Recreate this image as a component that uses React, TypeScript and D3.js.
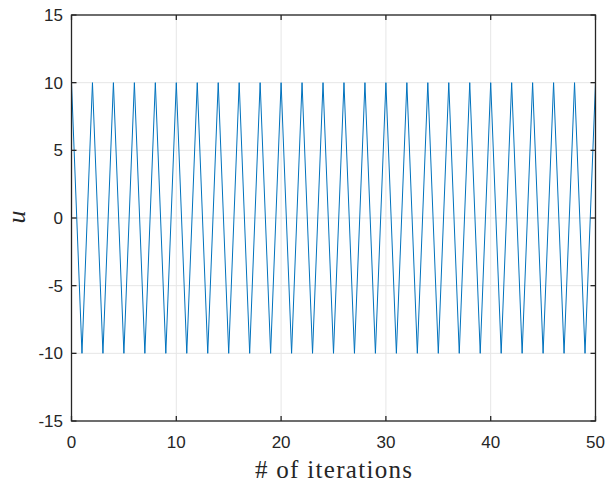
import React from "react";
import * as d3 from "d3";

const iterations: number[] = Array.from({ length: 51 }, (_, i) => i);
const uValues: number[] = [
  10, -10, 10, -10, 10, -10, 10, -10, 10, -10,
  10, -10, 10, -10, 10, -10, 10, -10, 10, -10,
  10, -10, 10, -10, 10, -10, 10, -10, 10, -10,
  10, -10, 10, -10, 10, -10, 10, -10, 10, -10,
  10, -10, 10, -10, 10, -10, 10, -10, 10, -10,
  10,
];
const xTicks: number[] = [0, 10, 20, 30, 40, 50];
const yTicks: number[] = [-15, -10, -5, 0, 5, 10, 15];
const xLabel = "# of iterations";
const yLabel = "u";

const W = 615;
const H = 484;
const L = 71.5;
const R = 595.5;
const T = 15;
const B = 421;

export default function App() {
  const x = d3.scaleLinear().domain([0, 50]).range([L, R]);
  const y = d3.scaleLinear().domain([-15, 15]).range([B, T]);
  const line = d3
    .line<number>()
    .x((_, i) => x(iterations[i]))
    .y((d) => y(d));
  const tick = 5;
  const sans = { fontFamily: "Liberation Sans, Arimo, Arial, Helvetica, sans-serif" };
  const serif = { fontFamily: "Liberation Serif, Times New Roman, serif" };
  return (
    <svg
      width={W}
      height={H}
      style={{ position: "absolute", left: 0, top: 0, background: "#fff" }}
    >
      <rect x={0} y={0} width={W} height={H} fill="#fff" />
      {xTicks.map((t) => (
        <line key={"gx" + t} x1={x(t)} x2={x(t)} y1={T} y2={B} stroke="#e6e6e6" strokeWidth={1} />
      ))}
      {yTicks.map((t) => (
        <line key={"gy" + t} x1={L} x2={R} y1={y(t)} y2={y(t)} stroke="#e6e6e6" strokeWidth={1} />
      ))}
      <path d={line(uValues) || ""} fill="none" stroke="#0072BD" strokeWidth={1} strokeLinejoin="miter" />
      <rect x={L} y={T} width={R - L} height={B - T} fill="none" stroke="#262626" strokeWidth={1.3} />
      {xTicks.map((t) => (
        <g key={"tx" + t}>
          <line x1={x(t)} x2={x(t)} y1={B} y2={B - tick} stroke="#262626" strokeWidth={1.3} />
          <line x1={x(t)} x2={x(t)} y1={T} y2={T + tick} stroke="#262626" strokeWidth={1.3} />
          <text x={x(t)} y={447.5} textAnchor="middle" style={sans} fontSize={17} fill="#262626">
            {t}
          </text>
        </g>
      ))}
      {yTicks.map((t) => (
        <g key={"ty" + t}>
          <line x1={L} x2={L + tick} y1={y(t)} y2={y(t)} stroke="#262626" strokeWidth={1.3} />
          <line x1={R} x2={R - tick} y1={y(t)} y2={y(t)} stroke="#262626" strokeWidth={1.3} />
          <text x={63} y={y(t)} dy="0.36em" textAnchor="end" style={sans} fontSize={17} fill="#262626">
            {t}
          </text>
        </g>
      ))}
      <text
        x={(L + R) / 2}
        y={478}
        textAnchor="middle"
        style={serif}
        fontSize={25}
        textLength={157}
        lengthAdjust="spacing"
        fill="#262626"
      >
        {xLabel}
      </text>
      <text
        transform={`translate(25, 217) rotate(-90)`}
        textAnchor="middle"
        style={serif}
        fontStyle="italic"
        fontSize={26}
        fill="#262626"
      >
        {yLabel}
      </text>
    </svg>
  );
}
